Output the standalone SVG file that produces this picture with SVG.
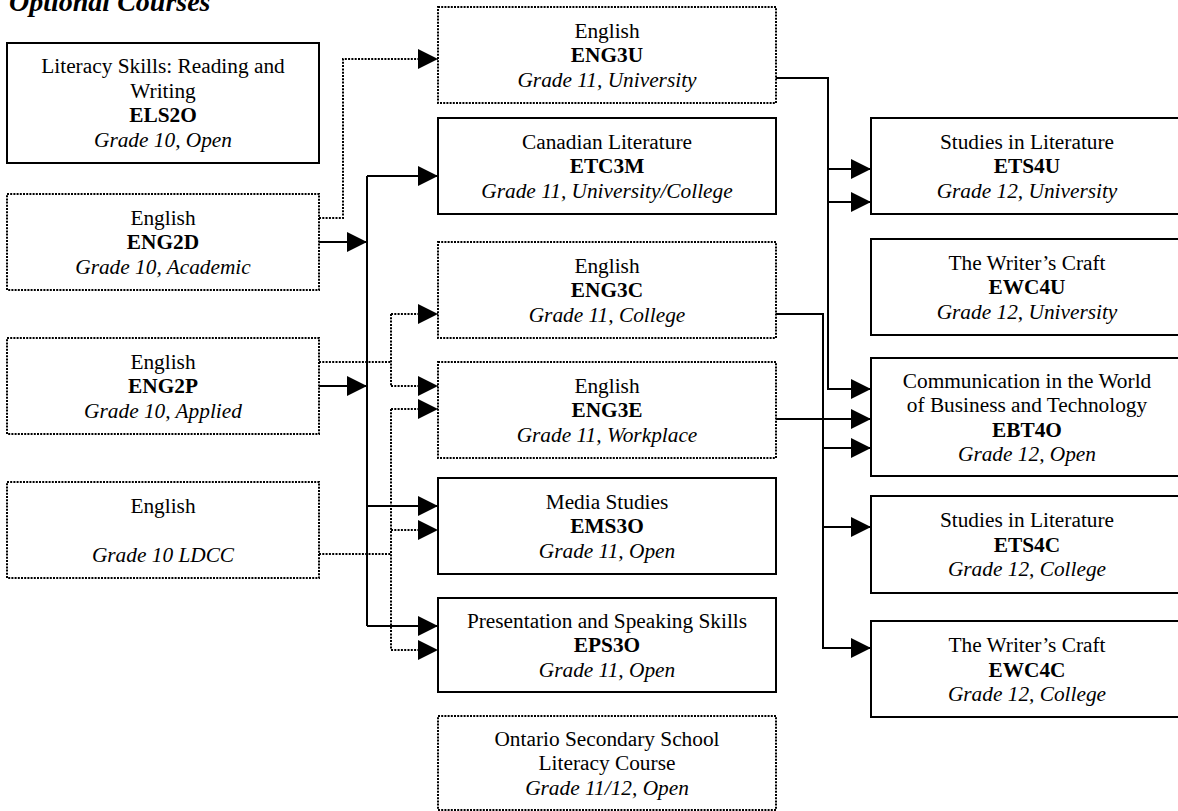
<svg xmlns="http://www.w3.org/2000/svg" width="1178" height="811" viewBox="0 0 1178 811">
<style>
text{font-family:"Liberation Serif","Times New Roman",serif;font-size:21.33px;fill:#000;text-anchor:middle}
.b{font-weight:bold}
.i{font-style:italic}
.title{font-weight:bold;font-style:italic;font-size:28px;text-anchor:start}
.solid{fill:#fff;stroke:#000;stroke-width:2}
.dot{fill:#fff;stroke:#000;stroke-width:2;stroke-dasharray:2 1.2}
.s{fill:none;stroke:#000;stroke-width:2}
.d{fill:none;stroke:#000;stroke-width:2;stroke-dasharray:2 1.3}
.a{marker-end:url(#arr)}
</style>
<defs>
<marker id="arr" markerUnits="userSpaceOnUse" markerWidth="20" markerHeight="20" refX="20" refY="10" orient="auto" viewBox="0 0 20 20">
<path d="M0,0 L20,10 L0,20 Z" fill="#000" stroke="none"/>
</marker>
</defs>
<rect width="1178" height="811" fill="#fff"/>
<text class="title" x="9" y="11">Optional Courses</text>

<g id="connectors">
<path class="s a" d="M319,242 H367"/>
<path class="s a" d="M319,386 H367"/>
<path class="s" d="M367,176 V626"/>
<path class="s a" d="M367,176 H438"/>
<path class="s a" d="M367,506 H438"/>
<path class="s a" d="M367,626 H438"/>
<path class="s a" d="M776,78 H828 V389 H871"/>
<path class="s a" d="M828,169 H871"/>
<path class="s a" d="M828,202 H871"/>
<path class="s a" d="M776,314 H823 V648 H871"/>
<path class="s a" d="M776,419 H871"/>
<path class="s a" d="M823,448 H871"/>
<path class="s a" d="M823,527 H871"/>
<path class="d a" d="M319,218 H343 V59 H438"/>
<path class="d" d="M319,362 H391"/>
<path class="d" d="M391,314 V386"/>
<path class="d a" d="M391,314 H438"/>
<path class="d a" d="M391,386 H438"/>
<path class="d" d="M319,554 H391"/>
<path class="d" d="M391,409 V650"/>
<path class="d a" d="M391,409 H438"/>
<path class="d a" d="M391,530 H438"/>
<path class="d a" d="M391,650 H438"/>
</g>

<g id="ELS2O">
<rect class="solid" x="7" y="43" width="312" height="120"/>
<text x="163" y="73.25">Literacy Skills: Reading and</text>
<text x="163" y="97.75">Writing</text>
<text class="b" x="163" y="122.25">ELS2O</text>
<text class="i" x="163" y="146.75">Grade 10, Open</text>
</g>
<g id="ENG2D">
<rect class="dot" x="7" y="194" width="312" height="96"/>
<text x="163" y="224.5">English</text>
<text class="b" x="163" y="249">ENG2D</text>
<text class="i" x="163" y="273.5">Grade 10, Academic</text>
</g>
<g id="ENG2P">
<rect class="dot" x="7" y="338" width="312" height="96"/>
<text x="163" y="368.5">English</text>
<text class="b" x="163" y="393">ENG2P</text>
<text class="i" x="163" y="417.5">Grade 10, Applied</text>
</g>
<g id="LDCC">
<rect class="dot" x="7" y="482" width="312" height="96"/>
<text x="163" y="512.5">English</text>
<text class="i" x="163" y="561.5">Grade 10 LDCC</text>
</g>

<g id="ENG3U">
<rect class="dot" x="438" y="7" width="338" height="96"/>
<text x="607" y="37.5">English</text>
<text class="b" x="607" y="62">ENG3U</text>
<text class="i" x="607" y="86.5">Grade 11, University</text>
</g>
<g id="ETC3M">
<rect class="solid" x="438" y="118" width="338" height="96"/>
<text x="607" y="148.5">Canadian Literature</text>
<text class="b" x="607" y="173">ETC3M</text>
<text class="i" x="607" y="197.5">Grade 11, University/College</text>
</g>
<g id="ENG3C">
<rect class="dot" x="438" y="242" width="338" height="96"/>
<text x="607" y="272.5">English</text>
<text class="b" x="607" y="297">ENG3C</text>
<text class="i" x="607" y="321.5">Grade 11, College</text>
</g>
<g id="ENG3E">
<rect class="dot" x="438" y="362" width="338" height="96"/>
<text x="607" y="392.5">English</text>
<text class="b" x="607" y="417">ENG3E</text>
<text class="i" x="607" y="441.5">Grade 11, Workplace</text>
</g>
<g id="EMS3O">
<rect class="solid" x="438" y="478" width="338" height="96"/>
<text x="607" y="508.5">Media Studies</text>
<text class="b" x="607" y="533">EMS3O</text>
<text class="i" x="607" y="557.5">Grade 11, Open</text>
</g>
<g id="EPS3O">
<rect class="solid" x="438" y="598" width="338" height="94"/>
<text x="607" y="627.5">Presentation and Speaking Skills</text>
<text class="b" x="607" y="652">EPS3O</text>
<text class="i" x="607" y="676.5">Grade 11, Open</text>
</g>
<g id="OSSLC">
<rect class="dot" x="438" y="716" width="338" height="94"/>
<text x="607" y="745.5">Ontario Secondary School</text>
<text x="607" y="770">Literacy Course</text>
<text class="i" x="607" y="794.5">Grade 11/12, Open</text>
</g>

<g id="ETS4U">
<rect class="solid" x="871" y="118" width="312" height="96"/>
<text x="1027" y="148.5">Studies in Literature</text>
<text class="b" x="1027" y="173">ETS4U</text>
<text class="i" x="1027" y="197.5">Grade 12, University</text>
</g>
<g id="EWC4U">
<rect class="solid" x="871" y="239" width="312" height="96"/>
<text x="1027" y="269.5">The Writer’s Craft</text>
<text class="b" x="1027" y="294">EWC4U</text>
<text class="i" x="1027" y="318.5">Grade 12, University</text>
</g>
<g id="EBT4O">
<rect class="solid" x="871" y="358" width="312" height="118"/>
<text x="1027" y="387.5">Communication in the World</text>
<text x="1027" y="412">of Business and Technology</text>
<text class="b" x="1027" y="436.5">EBT4O</text>
<text class="i" x="1027" y="461">Grade 12, Open</text>
</g>
<g id="ETS4C">
<rect class="solid" x="871" y="496" width="312" height="97"/>
<text x="1027" y="527">Studies in Literature</text>
<text class="b" x="1027" y="551.5">ETS4C</text>
<text class="i" x="1027" y="576">Grade 12, College</text>
</g>
<g id="EWC4C">
<rect class="solid" x="871" y="621" width="312" height="96"/>
<text x="1027" y="652">The Writer’s Craft</text>
<text class="b" x="1027" y="676.5">EWC4C</text>
<text class="i" x="1027" y="701">Grade 12, College</text>
</g>
</svg>
